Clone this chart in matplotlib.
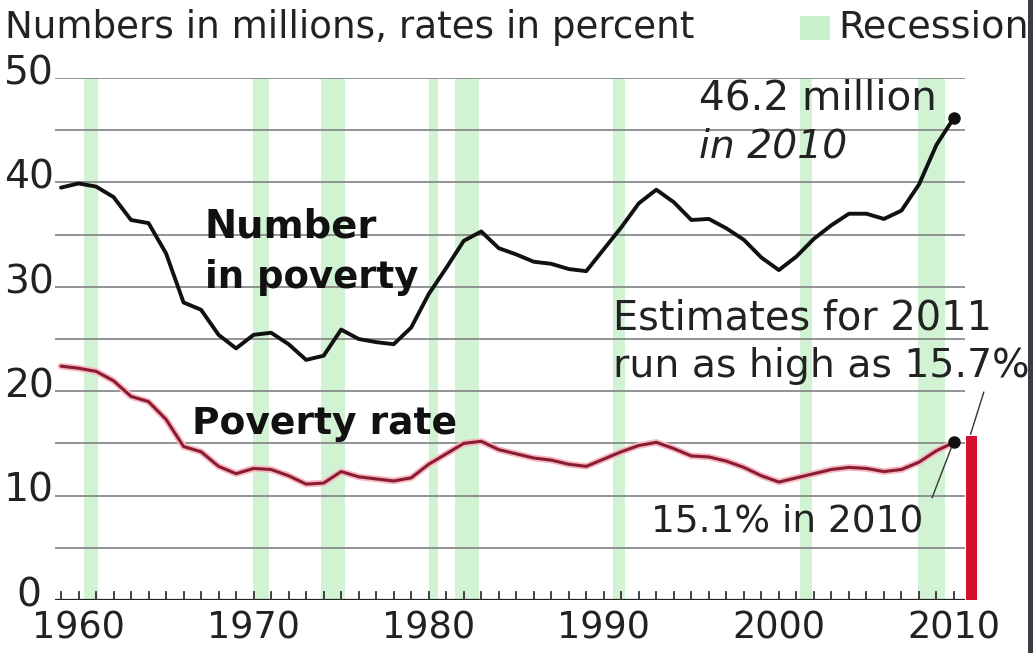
import matplotlib
matplotlib.use("Agg")
import matplotlib.pyplot as plt
import matplotlib.patheffects as pe
from matplotlib.patches import Rectangle

plt.rcParams['font.family'] = ['DejaVu Sans']

years = list(range(1959, 2011))
number_in_poverty = [39.5, 39.9, 39.6, 38.6, 36.4, 36.1, 33.2, 28.5, 27.8, 25.4,
                     24.1, 25.4, 25.6, 24.5, 23.0, 23.4, 25.9, 25.0, 24.7, 24.5,
                     26.1, 29.3, 31.8, 34.4, 35.3, 33.7, 33.1, 32.4, 32.2, 31.7,
                     31.5, 33.6, 35.7, 38.0, 39.3, 38.1, 36.4, 36.5, 35.6, 34.5,
                     32.8, 31.6, 32.9, 34.6, 35.9, 37.0, 37.0, 36.5, 37.3, 39.8,
                     43.6, 46.2]
poverty_rate = [22.4, 22.2, 21.9, 21.0, 19.5, 19.0, 17.3, 14.7, 14.2, 12.8,
                12.1, 12.6, 12.5, 11.9, 11.1, 11.2, 12.3, 11.8, 11.6, 11.4,
                11.7, 13.0, 14.0, 15.0, 15.2, 14.4, 14.0, 13.6, 13.4, 13.0,
                12.8, 13.5, 14.2, 14.8, 15.1, 14.5, 13.8, 13.7, 13.3, 12.7,
                11.9, 11.3, 11.7, 12.1, 12.5, 12.7, 12.6, 12.3, 12.5, 13.2,
                14.3, 15.1]
recession_starts = [1960.3, 1969.95, 1973.85, 1980.0, 1981.5, 1990.5, 2001.2, 2007.95]
recession_ends = [1961.1, 1970.9, 1975.2, 1980.55, 1982.9, 1991.2, 2001.9, 2009.5]
estimate_year = 2011
estimate_2011 = 15.7
y_ticks = [0, 10, 20, 30, 40, 50]
x_ticks = [1960, 1970, 1980, 1990, 2000, 2010]

W, H = 1033, 653
fig = plt.figure(figsize=(W / 100, H / 100), dpi=100)
fig.patch.set_facecolor('white')

ax_left, ax_right, ax_top, ax_bottom = 55, 1000, 78, 600
ax = fig.add_axes([ax_left / W, 1 - ax_bottom / H, (ax_right - ax_left) / W, (ax_bottom - ax_top) / H])
px_per_year = 17.51
x0 = 1960 + (ax_left - 78.5) / px_per_year
x1 = 1960 + (ax_right - 78.5) / px_per_year
ax.set_xlim(x0, x1)
ax.set_ylim(0, 50)
ax.axis('off')

grid_end = 2010.6
for s, e in zip(recession_starts, recession_ends):
    ax.axvspan(s, e, ymin=0, ymax=1.0, color='#c9f2cc', alpha=0.85, lw=0, zorder=0)

for g in range(5, 51, 5):
    ax.plot([x0, grid_end], [g, g], color='#8a8a8a', lw=1.3, zorder=1, solid_capstyle='butt')

ax.plot([x0, grid_end], [0, 0], color='#222222', lw=1.6, zorder=3, solid_capstyle='butt')
for yr in range(1959, 2011):
    ax.plot([yr, yr], [0, 0.75], color='#333333', lw=1.3, zorder=3)

fit_list = []  # (text artist, target width px)

for t in x_ticks:
    tx = ax.text(t, -0.9, str(t), ha='center', va='top', fontsize=24, color='#222222')
    fit_list.append((tx, 93))
for t in y_ticks:
    tx = ax.text(x0 - 1.5, t + 0.45, str(t), ha='center', va='center', fontsize=24, color='#222222')
    fit_list.append((tx, 50 if t > 0 else None))

ax.plot(years, number_in_poverty, color='#111111', lw=2.8, zorder=5,
        solid_joinstyle='round', solid_capstyle='round')
ax.plot(years, poverty_rate, color='#8a1c30', lw=2.2, zorder=5,
        solid_joinstyle='round', solid_capstyle='round',
        path_effects=[pe.Stroke(linewidth=4.8, foreground='#f6b9c3'), pe.Normal()])

ax.plot([years[-1]], [number_in_poverty[-1]], 'o', color='#111111', ms=8, zorder=6)
ax.plot([years[-1]], [poverty_rate[-1]], 'o', color='#111111', ms=8, zorder=6)

ax.bar([estimate_year], [estimate_2011], width=0.65, color='#d4112e', zorder=4)

def label(x, y, s, target, **kw):
    base = dict(fontsize=22, ha='left', va='center', color='#222222', zorder=7)
    base.update(kw)
    tx = ax.text(x, y, s, **base)
    fit_list.append((tx, target))
    return tx

label(1967.2, 35.8, 'Number', 173, fontweight='bold', color='#111111')
label(1967.2, 30.9, 'in poverty', 213, fontweight='bold', color='#111111')
label(1966.5, 16.9, 'Poverty rate', 265, fontweight='bold', color='#111111')
label(1995.45, 48.0, '46.2 million', 238)
label(1995.45, 43.4, 'in 2010', 148, style='italic')
label(1990.5, 27.0, 'Estimates for 2011', 380)
label(1990.5, 22.4, 'run as high as 15.7%', 417)
label(1992.7, 7.5, '15.1% in 2010', 273)

ax.plot([2010.95, 2011.7], [15.9, 19.9], color='#333333', lw=1.0, zorder=6)
ax.plot([2009.85, 2008.75], [14.6, 9.8], color='#333333', lw=1.0, zorder=6)

hdr = fig.text(5 / W, 1 - 28 / H, 'Numbers in millions, rates in percent', fontsize=23, ha='left',
               va='center', color='#222222')
fit_list.append((hdr, 690))
fig.patches.append(Rectangle((800 / W, 1 - 40 / H), 30 / W, 24 / H, transform=fig.transFigure,
                             facecolor='#c9f2cc', edgecolor='none'))
rec = fig.text(838 / W, 1 - 28 / H, 'Recession', fontsize=23, ha='left', va='center', color='#222222')
fit_list.append((rec, 190))

fig.patches.append(Rectangle((1028 / W, 0), 5 / W, 1, transform=fig.transFigure,
                             facecolor='#3c3c44', edgecolor='none'))

# fit font sizes to the measured widths in the reference
fig.canvas.draw()
renderer = fig.canvas.get_renderer()
for _ in range(2):
    for tx, target in fit_list:
        if target is None:
            continue
        w = tx.get_window_extent(renderer).width
        tx.set_fontsize(tx.get_fontsize() * target / w)
    fig.canvas.draw()
ysize = [tx.get_fontsize() for tx, tg in fit_list if tg == 50]
for tx, tg in fit_list:
    if tg is None:
        tx.set_fontsize(sum(ysize) / len(ysize))

fig.savefig('out.png', dpi=100)
